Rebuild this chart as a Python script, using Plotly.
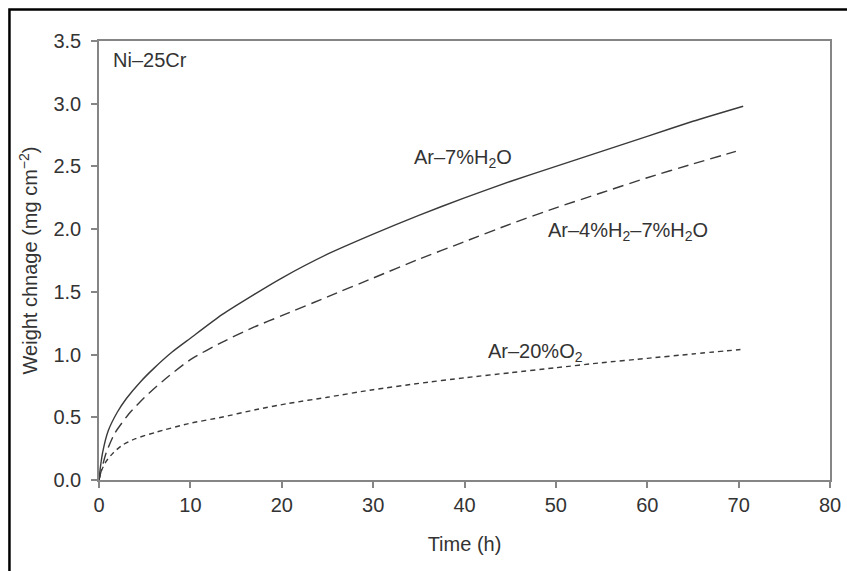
import plotly.graph_objects as go

# Ar-7%H2O (solid)
t_h2o = [0, 0.15, 0.4, 1.0, 2.0, 3.0, 4.5, 6.0, 8.0, 10.0, 13.5, 17.0, 20.0, 25.0, 30.0, 35.0, 40.0, 45.0, 50.0, 55.0, 60.0, 65.0, 70.5]
w_h2o = [0, 0.10, 0.22, 0.39, 0.54, 0.65, 0.78, 0.89, 1.02, 1.13, 1.32, 1.48, 1.61, 1.80, 1.96, 2.11, 2.25, 2.38, 2.50, 2.62, 2.74, 2.86, 2.98]

# Ar-4%H2-7%H2O (dashed)
t_h2h2o = [0, 0.3, 0.8, 1.7, 3.3, 5.0, 7.0, 10.0, 13.5, 17.0, 20.0, 25.0, 30.0, 35.0, 40.0, 45.0, 50.0, 55.0, 60.0, 65.0, 69.7]
w_h2h2o = [0, 0.09, 0.22, 0.37, 0.53, 0.66, 0.79, 0.96, 1.10, 1.22, 1.31, 1.46, 1.61, 1.76, 1.90, 2.04, 2.17, 2.29, 2.41, 2.52, 2.62]

# Ar-20%O2 (short dashed)
t_o2 = [0, 0.3, 0.8, 1.6, 2.6, 4.0, 6.2, 9.8, 13.4, 17.1, 20.7, 25.0, 30.0, 35.0, 40.0, 45.0, 50.0, 55.0, 60.0, 65.0, 70.2]
w_o2 = [0, 0.08, 0.15, 0.22, 0.28, 0.33, 0.38, 0.45, 0.50, 0.56, 0.61, 0.66, 0.72, 0.77, 0.815, 0.855, 0.895, 0.935, 0.97, 1.005, 1.04]

x_ticks = [0, 10, 20, 30, 40, 50, 60, 70, 80]
y_ticks = [0.0, 0.5, 1.0, 1.5, 2.0, 2.5, 3.0, 3.5]
y_ticklabels = ["0.0", "0.5", "1.0", "1.5", "2.0", "2.5", "3.0", "3.5"]

line_col = "#3a3a3a"
txt_col = "#333333"
FONT = "Liberation Sans, Arial, sans-serif"
FS = 20

fig = go.Figure()
fig.add_trace(go.Scatter(x=t_h2o, y=w_h2o, mode="lines",
                         line=dict(color=line_col, width=1.4, shape="spline", smoothing=0.6)))
fig.add_trace(go.Scatter(x=t_h2h2o, y=w_h2h2o, mode="lines",
                         line=dict(color=line_col, width=1.4, shape="spline", smoothing=0.6,
                                   dash="11px,6px")))
fig.add_trace(go.Scatter(x=t_o2, y=w_o2, mode="lines",
                         line=dict(color=line_col, width=1.4, shape="spline", smoothing=0.6,
                                   dash="5px,4px")))

annots = [
    dict(x=1.3, y=3.35, text="Ni–25Cr"),
    dict(x=34.3, y=2.56, text="Ar–7%H<sub>2</sub>O"),
    dict(x=48.9, y=1.98, text="Ar–4%H<sub>2</sub>–7%H<sub>2</sub>O"),
    dict(x=42.3, y=1.02, text="Ar–20%O<sub>2</sub>"),
]
for a in annots:
    fig.add_annotation(x=a["x"], y=a["y"], text=a["text"], xanchor="left",
                       yanchor="middle", showarrow=False,
                       font=dict(family=FONT, size=FS, color=txt_col))

# outer black frame (top and left visible)
fig.add_shape(type="rect", xref="paper", yref="paper",
              x0=-0.1225, x1=1.5, y0=-0.5, y1=1.0718,
              line=dict(color="black", width=2.5), fillcolor="rgba(0,0,0,0)", layer="above")

axis_common = dict(showline=True, linecolor="#858585", linewidth=1.5, mirror=True,
                   ticks="outside", ticklen=6, tickwidth=1.5, tickcolor="#858585",
                   showgrid=False, zeroline=False,
                   tickfont=dict(family=FONT, size=FS, color=txt_col))

fig.update_xaxes(range=[0, 80], tickvals=x_ticks, ticklabelstandoff=0,
                 title=dict(text="Time (h)", font=dict(family=FONT, size=FS, color=txt_col), standoff=22),
                 **axis_common)
fig.update_yaxes(range=[0, 3.5], tickvals=y_ticks, ticktext=y_ticklabels, ticklabelstandoff=6,
                 title=dict(text="Weight chnage (mg cm<sup>−2</sup>)",
                            font=dict(family=FONT, size=FS, color=txt_col), standoff=10),
                 **axis_common)

fig.update_layout(width=847, height=571, showlegend=False,
                  plot_bgcolor="white", paper_bgcolor="white",
                  margin=dict(l=99, r=17, t=41, b=91, autoexpand=False))

fig.write_html("out.html", config={"displayModeBar": False},
               post_script="document.body.style.margin='0';document.body.style.overflow='hidden';")
